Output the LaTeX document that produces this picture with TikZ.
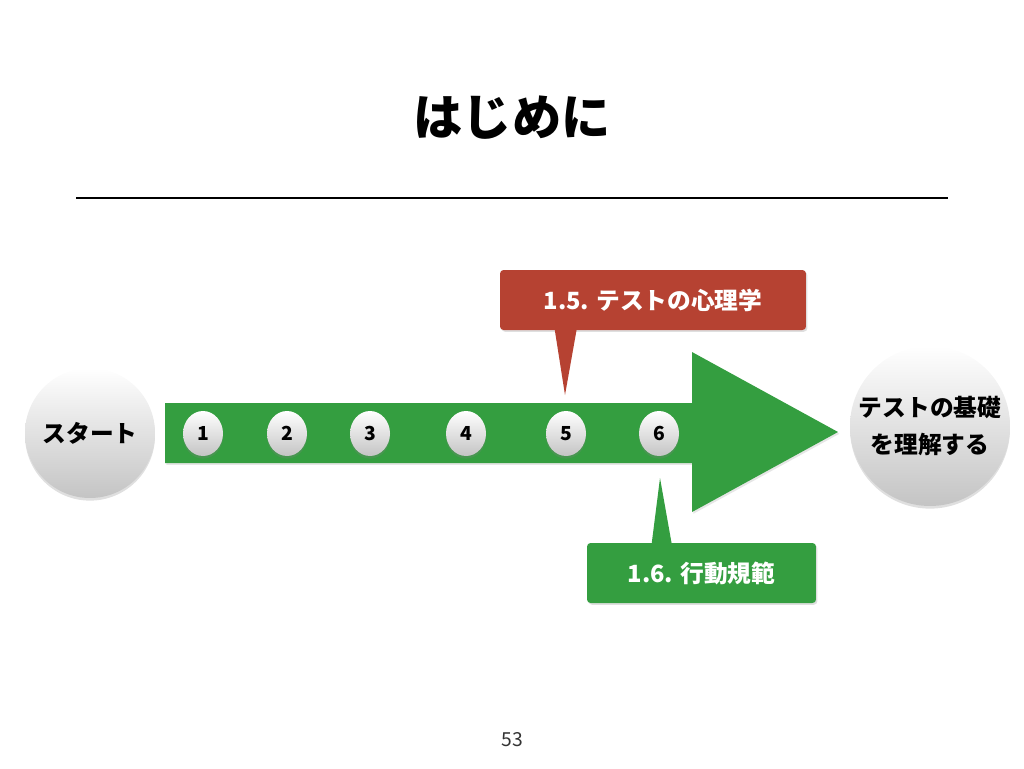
\documentclass[tikz,border=0pt]{standalone}
\usepackage{fontspec}
\setmainfont{Noto Sans CJK JP}
\usepackage{tikz}
\usetikzlibrary{shadows, positioning, calc, shapes.geometric}

\definecolor{arrowgreen}{RGB}{52,158,64}
\definecolor{notered}{RGB}{182,66,50}
\definecolor{ballgray}{RGB}{196,196,196}

\tikzset{
  ball/.style={circle, top color=white, bottom color=ballgray, inner sep=0pt,
    drop shadow={shadow xshift=0pt, shadow yshift=-1.5pt, opacity=0.25}},
  bigball/.style={ball, font=\fontsize{13.5}{21.5}\selectfont\bfseries, align=center},
  numball/.style={ball, ellipse, minimum width=0.8cm, minimum height=0.9cm,
    font=\fontsize{11}{13}\selectfont\bfseries},
  notebox/.style={rounded corners=2pt, minimum height=1.2cm, text=white,
    font=\fontsize{13.5}{16}\selectfont\bfseries,
    drop shadow={shadow xshift=0.8pt, shadow yshift=-1pt, opacity=0.25}},
}

\begin{document}
\begin{tikzpicture}[x=0.02cm, y=-0.02cm]
  \useasboundingbox (0,0) rectangle (1024,768);
  % Title and rule
  \node (title) at (512,118) {\fontsize{28}{34}\selectfont\bfseries はじめに};
  \draw[line width=1.1pt] (76,198) -- (948,198);
  % Big arrow
  \fill[arrowgreen, drop shadow={shadow xshift=0.8pt, shadow yshift=-1pt, opacity=0.2}]
    (165,403) -- (692,403) -- (692,352) -- (838,432) -- (692,512) -- (692,463) -- (165,463) -- cycle;
  % Start and goal
  \node[bigball, minimum size=2.6cm] (start) at (90,433) {スタート};
  \node[bigball, minimum size=3.2cm] (goal) at (930,426) {テストの基礎\\を理解する};
  % Numbered steps along the arrow
  \foreach \x/\n in {203/1, 287/2, 370/3, 466/4, 566/5, 659/6}
    {\node[numball] (n\n) at (\x,433.5) {\n};}
  % Callout above (1.5)
  \node[notebox, fill=notered, minimum width=6.12cm] (psych) at (653,300) {1.5. テストの心理学};
  \coordinate (psychtip) at (565,395);
  \fill[notered] ($(psych.south west)+(55,-1)$) -- (psychtip) -- ($(psych.south west)+(77,-1)$) -- cycle;
  % Callout below (1.6)
  \node[notebox, fill=arrowgreen, minimum width=4.58cm] (conduct) at (701.5,573) {1.6. 行動規範};
  \coordinate (conducttip) at (660,478);
  \fill[arrowgreen] ($(conduct.north west)+(65,1)$) -- (conducttip) -- ($(conduct.north west)+(85,1)$) -- cycle;
  % Page number
  \node[text=black!80, font=\fontsize{11}{13}\selectfont] (page) at (512,740) {53};
\end{tikzpicture}
\end{document}
